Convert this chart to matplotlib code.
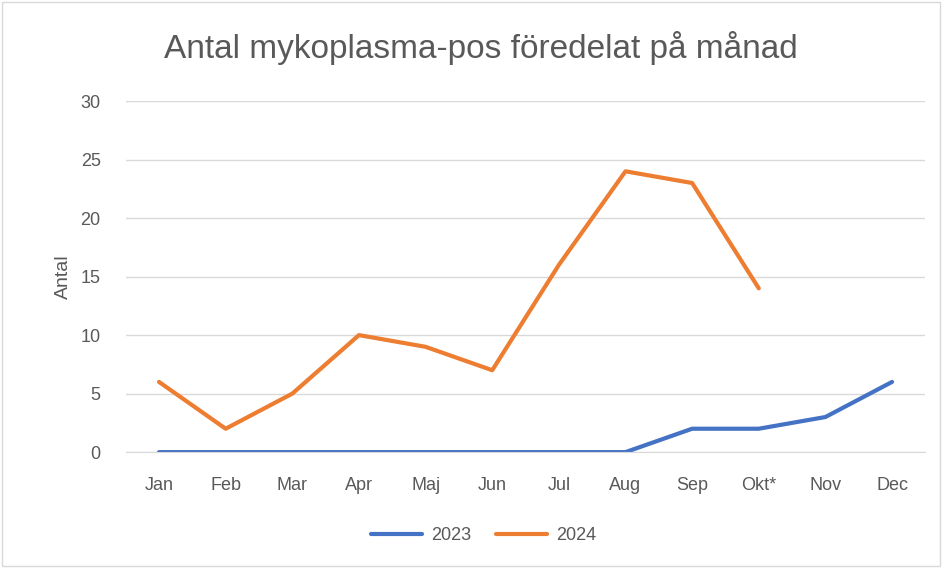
import matplotlib.pyplot as plt
from matplotlib.patches import Rectangle

months = ['Jan', 'Feb', 'Mar', 'Apr', 'Maj', 'Jun', 'Jul', 'Aug', 'Sep', 'Okt*', 'Nov', 'Dec']
values_2023 = [0, 0, 0, 0, 0, 0, 0, 0, 2, 2, 3, 6]
values_2024 = [6, 2, 5, 10, 9, 7, 16, 24, 23, 14]

plt.rcParams['font.family'] = ['Liberation Sans', 'DejaVu Sans']

fig = plt.figure(figsize=(9.43, 5.68), dpi=100)
ax = fig.add_axes([0.1333, 0.204, 0.848, 0.618])

x23 = list(range(len(values_2023)))
x24 = list(range(len(values_2024)))
ax.plot(x23, values_2023, color='#4472C4', lw=3, label='2023', solid_capstyle='round')
ax.plot(x24, values_2024, color='#ED7D31', lw=3, label='2024', solid_capstyle='round')

ax.set_xlim(-0.5, len(months) - 0.5)
ax.set_ylim(0, 30)
ax.set_yticks(range(0, 31, 5))
ax.set_xticks(x23)
ax.set_xticklabels(months)
ax.grid(axis='y', color='#D9D9D9', lw=1)
ax.set_axisbelow(True)
for s in ['top', 'right', 'left']:
    ax.spines[s].set_visible(False)
ax.spines['bottom'].set_color('#D9D9D9')
ax.tick_params(axis='both', length=0, labelsize=13, colors='#595959')
ax.tick_params(axis='x', pad=18)
ax.tick_params(axis='y', pad=18)
ax.set_ylabel('Antal', fontsize=14, color='#595959', labelpad=6)

fig.text(0.51, 0.916, 'Antal mykoplasma-pos föredelat på månad', ha='center', va='center',
         fontsize=24, color='#595959')

fig.legend(loc='center', bbox_to_anchor=(0.513, 0.057), ncol=2, frameon=False,
           fontsize=13, labelcolor='#595959', handlelength=2.8, handletextpad=0.5,
           columnspacing=1.4)

fig.patches.append(Rectangle((0.002, 0.004), 0.995, 0.992, transform=fig.transFigure,
                             fill=False, edgecolor='#D9D9D9', lw=1))

fig.savefig('out.png', dpi=100)
